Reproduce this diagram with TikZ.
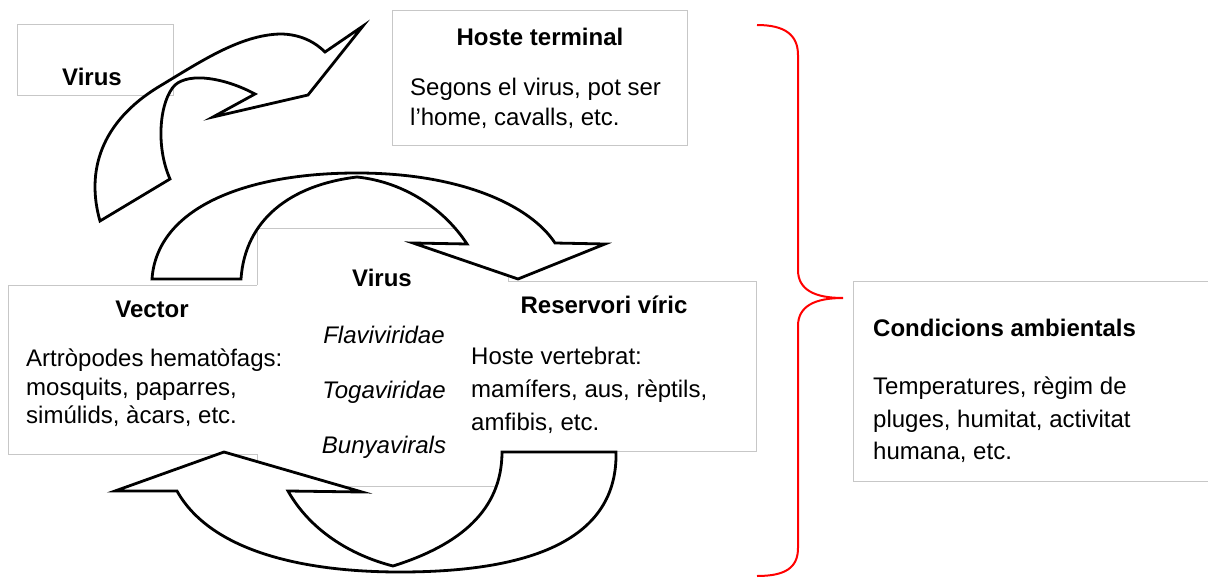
\documentclass[tikz,border=0pt]{standalone}
\usepackage{fontspec}
\setmainfont{Liberation Sans}
\begin{document}
\begin{tikzpicture}[x=1pt,y=-1pt,
    frame/.style={draw=black!22,line width=0.8pt},
    blockarrow/.style={draw=black,fill=white,line width=2.8pt,line join=miter},
    brace/.style={draw=red,line width=2pt},
    title/.style={font=\fontsize{24}{29}\selectfont\bfseries,inner sep=0pt},
    body/.style={font=\fontsize{24}{#1}\selectfont,align=left,inner sep=0pt,anchor=west},
    body/.default=31,
    family/.style={font=\fontsize{24}{55}\selectfont\itshape,align=center,inner sep=0pt}]
     \useasboundingbox (0,0) rectangle (1208,578);

     % frames
     \draw[frame] (17,24) rectangle (173,95);
     \draw[frame] (392,10) rectangle (687,145);
     \draw[frame] (257,285) -- (257,228) -- (508,228) -- (508,281);
     \draw[frame] (257,454) -- (257,486) -- (508,486);
     \draw[frame] (257,285) -- (8,285) -- (8,454) -- (257,454);
     \draw[frame] (508,281) -- (756,281) -- (756,451) -- (508,451);
     \draw[frame] (1208,281) -- (853,281) -- (853,481) -- (1208,481);

     % virus -> hoste terminal
     \draw[blockarrow] (100,221) .. controls (86,172) and (100,122) .. (160,86)
        .. controls (200,62) and (240,35) .. (280,34) .. controls (300,34) and (315,42) .. (325,52)
        -- (363,26) -- (308,95) -- (213,117) -- (255,94)
        .. controls (225,78) and (190,72) .. (175,85) .. controls (160,100) and (155,145) .. (170,179) -- cycle;

     % vector -> reservori
     \draw[blockarrow] (152,279) .. controls (157,208) and (245,173) .. (357,173)
        .. controls (460,173) and (530,205) .. (555,243)
        -- (605,244) -- (518,279) -- (413,243) -- (467,244)
        .. controls (445,210) and (405,182) .. (357,177)
        .. controls (290,185) and (245,220) .. (241,279) -- cycle;

     % reservori -> vector
     \draw[blockarrow] (616,452) .. controls (618,540) and (530,572) .. (400,572)
        .. controls (300,572) and (210,550) .. (177,491)
        -- (115,491) -- (224,452) -- (362,492) -- (288,491)
        .. controls (310,530) and (350,555) .. (393,566)
        .. controls (460,545) and (502,510) .. (502,452) -- cycle;

     % condicions
     \draw[brace] (757,25) .. controls (785,25) and (798,35) .. (798,55) -- (798,270)
        .. controls (798,290) and (815,298) .. (843,298)
        .. controls (815,298) and (798,306) .. (798,326) -- (798,548)
        .. controls (798,568) and (785,576) .. (757,576);

     \node[title] (virusA) at (92,77) {Virus};
     \node[title] (hoste) at (540,37) {Hoste terminal};
     \node[body=30] (hosteT) at (410,103) {Segons el virus, pot ser\\l’home, cavalls, etc.};
     \node[title] (virusB) at (382,278) {Virus};
     \node[family] (families) at (384,392) {Flaviviridae\\Togaviridae\\Bunyavirals};
     \node[title] (vector) at (152,309) {Vector};
     \node[body=28.5] (vectorT) at (26,388) {Artròpodes hematòfags:\\mosquits, paparres,\\simúlids, àcars, etc.};
     \node[title] (reserv) at (604,305) {Reservori víric};
     \node[body=33] (reservT) at (471,390) {Hoste vertebrat:\\mamífers, aus, rèptils,\\amfibis, etc.};
     \node[title,anchor=west] (cond) at (873,328) {Condicions ambientals};
     \node[body=32.5] (condT) at (873,420) {Temperatures, règim de\\pluges, humitat, activitat\\humana, etc.};
\end{tikzpicture}
\end{document}
